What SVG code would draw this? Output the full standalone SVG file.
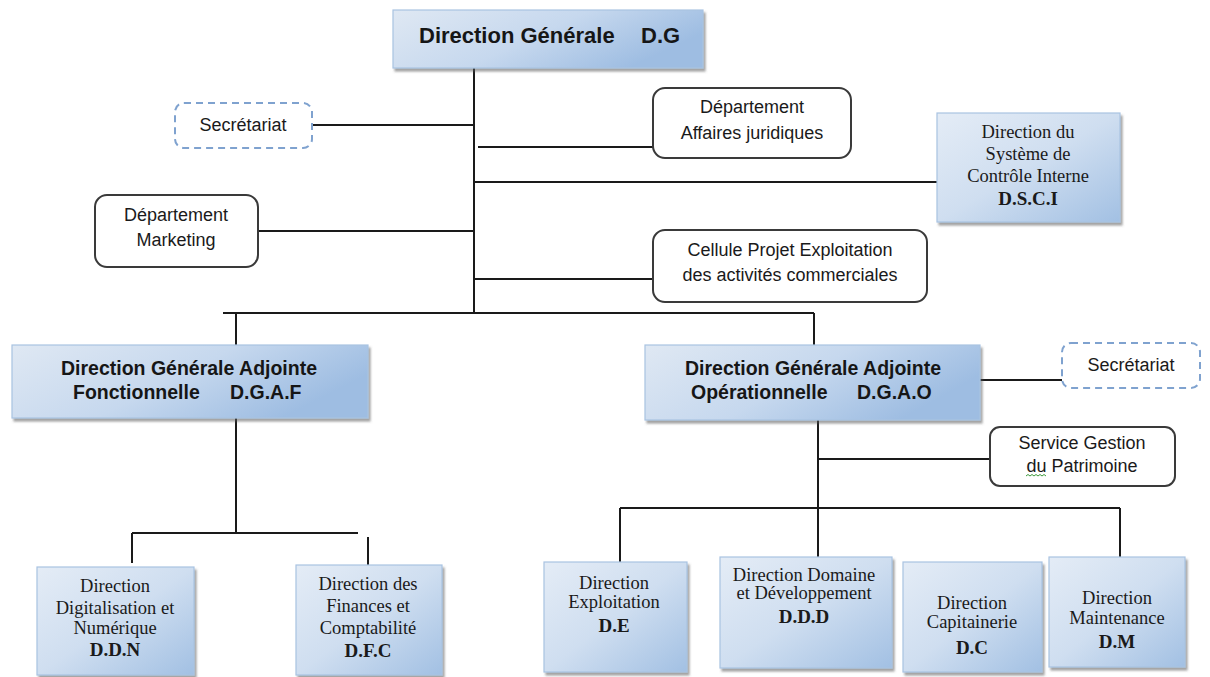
<svg xmlns="http://www.w3.org/2000/svg" width="1210" height="677" viewBox="0 0 1210 677">
<defs>
<linearGradient id="gBlue" x1="0" y1="0" x2="1" y2="1">
<stop offset="0" stop-color="#e4ecf6"/>
<stop offset="0.5" stop-color="#cfdef0"/>
<stop offset="1" stop-color="#a2c0e3"/>
</linearGradient>
<linearGradient id="gBlue2" x1="0" y1="0" x2="1" y2="0.4">
<stop offset="0" stop-color="#dfe8f3"/>
<stop offset="0.55" stop-color="#c6d8ee"/>
<stop offset="1" stop-color="#9ebde2"/>
</linearGradient>
<filter id="sh" x="-10%" y="-10%" width="130%" height="130%">
<feDropShadow dx="2" dy="3" stdDeviation="1" flood-color="#555" flood-opacity="0.55"/>
</filter>
</defs>
<style>
.bx{fill:url(#gBlue);stroke:#a9c3e2;stroke-width:1.2;filter:url(#sh)}
.bx2{fill:url(#gBlue2);stroke:#a9c3e2;stroke-width:1.2;filter:url(#sh)}
.rb{fill:#fff;stroke:#3a3a3a;stroke-width:2}
.db{fill:#fff;stroke:#7fa2cf;stroke-width:2;stroke-dasharray:7 5}
.ln{stroke:#1a1a1a;stroke-width:2;fill:none}
.sb{font-family:"Liberation Sans",Arial,sans-serif;font-weight:bold;fill:#161616}
.sr{font-family:"Liberation Sans",Arial,sans-serif;font-size:18px;fill:#1a1a1a;text-anchor:middle}
.se{font-family:"Liberation Serif","Times New Roman",serif;font-size:18.5px;fill:#1a1a1a;text-anchor:middle}
.seb{font-family:"Liberation Serif","Times New Roman",serif;font-size:19px;font-weight:bold;fill:#1a1a1a;text-anchor:middle}
</style>
<rect width="1210" height="677" fill="#fff"/>

<g id="connectors">
<path class="ln" d="M474 68V313"/>
<path class="ln" d="M312 125H474"/>
<path class="ln" d="M478 147H653"/>
<path class="ln" d="M474 182H937"/>
<path class="ln" d="M258 231H474"/>
<path class="ln" d="M474 279H653"/>
<path class="ln" d="M223 313H814"/>
<path class="ln" d="M236 313V345"/>
<path class="ln" d="M814 313V345"/>
<path class="ln" d="M236 418V533"/>
<path class="ln" d="M132 533H358"/>
<path class="ln" d="M132 533V563"/>
<path class="ln" d="M368 537V565"/>
<path class="ln" d="M980 380H1062"/>
<path class="ln" d="M818 420V508"/>
<path class="ln" d="M818 459H990"/>
<path class="ln" d="M620 508H1120"/>
<path class="ln" d="M620 508V562"/>
<path class="ln" d="M818 508V557"/>
<path class="ln" d="M1120 508V557"/>
</g>

<g id="dg">
<rect class="bx2" x="393" y="10" width="310" height="58"/>
<text class="sb" font-size="22" y="43"><tspan x="419">Direction Générale</tspan><tspan x="641">D.G</tspan></text>
</g>

<g id="secretariat1">
<rect class="db" x="175" y="103" width="137" height="45" rx="9"/>
<text class="sr" x="243" y="131">Secrétariat</text>
</g>

<g id="juridiques">
<rect class="rb" x="653" y="88" width="198" height="70" rx="12"/>
<text class="sr" x="752" y="113">Département</text>
<text class="sr" x="752" y="139">Affaires juridiques</text>
</g>

<g id="dsci">
<rect class="bx" x="937" y="113" width="183" height="109"/>
<text class="se" x="1028" y="138">Direction du</text>
<text class="se" x="1028" y="160">Système de</text>
<text class="se" x="1028" y="182">Contrôle Interne</text>
<text class="seb" x="1028" y="205">D.S.C.I</text>
</g>

<g id="marketing">
<rect class="rb" x="95" y="195" width="163" height="72" rx="12"/>
<text class="sr" x="176" y="221">Département</text>
<text class="sr" x="176" y="246">Marketing</text>
</g>

<g id="cellule">
<rect class="rb" x="653" y="230" width="274" height="72" rx="12"/>
<text class="sr" x="790" y="256">Cellule Projet Exploitation</text>
<text class="sr" x="790" y="281">des activités commerciales</text>
</g>

<g id="dgaf">
<rect class="bx2" x="12" y="345" width="356" height="73"/>
<text class="sb" font-size="19.5" x="189" y="375" text-anchor="middle">Direction Générale Adjointe</text>
<text class="sb" font-size="19.5" y="399"><tspan x="73">Fonctionnelle</tspan><tspan x="230">D.G.A.F</tspan></text>
</g>

<g id="dgao">
<rect class="bx2" x="645" y="345" width="335" height="75"/>
<text class="sb" font-size="19.5" x="813" y="375" text-anchor="middle">Direction Générale Adjointe</text>
<text class="sb" font-size="19.5" y="399"><tspan x="691">Opérationnelle</tspan><tspan x="857">D.G.A.O</tspan></text>
</g>

<g id="secretariat2">
<rect class="db" x="1062" y="343" width="138" height="45" rx="9"/>
<text class="sr" x="1131" y="371">Secrétariat</text>
</g>

<g id="patrimoine">
<rect class="rb" x="990" y="427" width="185" height="59" rx="10"/>
<text class="sr" x="1082" y="449">Service Gestion</text>
<text class="sr" x="1082" y="472">du Patrimoine</text>
<path d="M1026 476l2 -1.5 2 1.5 2 -1.5 2 1.5 2 -1.5 2 1.5 2 -1.5 2 1.5 2 -1.5 2 1.5" fill="none" stroke="#3c9a3c" stroke-width="1"/>
</g>

<g id="ddn">
<rect class="bx" x="37" y="567" width="157" height="108"/>
<text class="se" x="115" y="592" font-size="15.5">Direction</text>
<text class="se" x="115" y="614">Digitalisation et</text>
<text class="se" x="115" y="634">Numérique</text>
<text class="seb" x="115" y="656">D.D.N</text>
</g>

<g id="dfc">
<rect class="bx" x="296" y="565" width="146" height="110"/>
<text class="se" x="368" y="590">Direction des</text>
<text class="se" x="368" y="612">Finances et</text>
<text class="se" x="368" y="634">Comptabilité</text>
<text class="seb" x="368" y="657">D.F.C</text>
</g>

<g id="de">
<rect class="bx" x="544" y="562" width="143" height="110"/>
<text class="se" x="614" y="589">Direction</text>
<text class="se" x="614" y="608">Exploitation</text>
<text class="seb" x="614" y="632">D.E</text>
</g>

<g id="ddd">
<rect class="bx" x="720" y="557" width="172" height="111"/>
<text class="se" x="804" y="581" font-size="16">Direction Domaine</text>
<text class="se" x="804" y="599" font-size="16">et Développement</text>
<text class="seb" x="804" y="623">D.D.D</text>
</g>

<g id="dc">
<rect class="bx" x="903" y="562" width="139" height="110"/>
<text class="se" x="972" y="609">Direction</text>
<text class="se" x="972" y="628">Capitainerie</text>
<text class="seb" x="972" y="654">D.C</text>
</g>

<g id="dm">
<rect class="bx" x="1049" y="557" width="136" height="110"/>
<text class="se" x="1117" y="604">Direction</text>
<text class="se" x="1117" y="624">Maintenance</text>
<text class="seb" x="1117" y="648">D.M</text>
</g>
</svg>
